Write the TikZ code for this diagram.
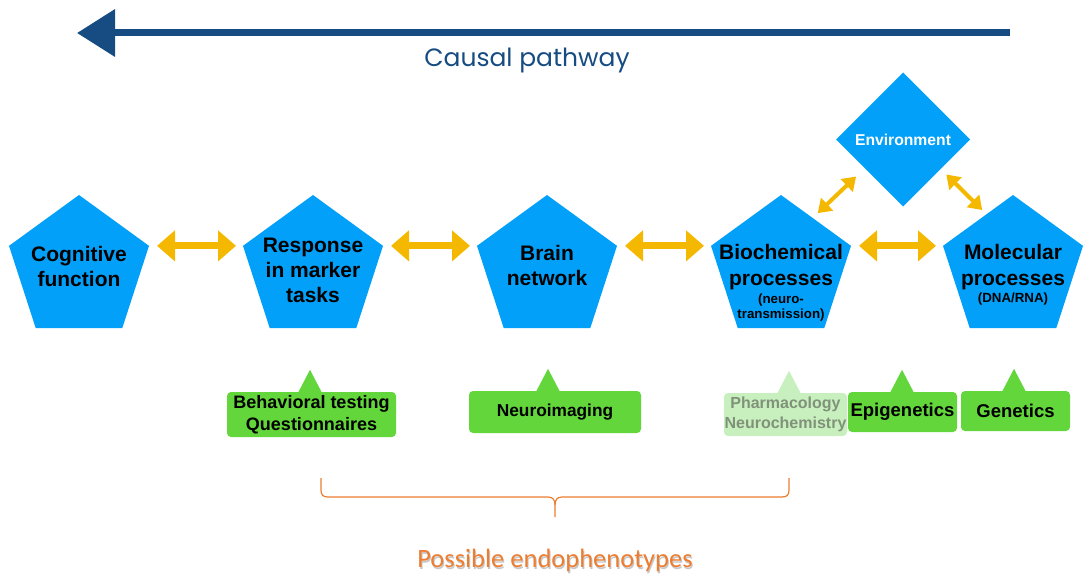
\documentclass[tikz,border=0pt]{standalone}
\usepackage{fontspec}
\setmainfont{Liberation Sans}
\newfontfamily\calfont{Carlito}
\newfontfamily\handfont{Poppins}
\usetikzlibrary{shapes.geometric,arrows.meta,calc}

\definecolor{pentblue}{RGB}{3,160,250}
\definecolor{linkorange}{RGB}{244,184,0}
\definecolor{boxgreen}{RGB}{98,214,58}
\definecolor{palegreen}{RGB}{200,240,190}
\definecolor{palegray}{RGB}{128,146,122}
\definecolor{causalblue}{RGB}{22,76,130}
\definecolor{endoorange}{RGB}{237,125,49}

% pointer triangle on top of a callout box: node, apex x offset, fill colour
\newcommand\calloutpin[3]{%
  \fill[#3] ($(#1.north)+({#2-12},1)$) -- ($(#1.north)+(#2,-22)$) -- ($(#1.north)+({#2+12},1)$) -- cycle;}

\begin{document}
\begin{tikzpicture}[x=1pt,y=-1pt,
  pent/.style={regular polygon, regular polygon sides=5, minimum size=147.2pt,
    inner sep=0pt, outer sep=0pt, fill=pentblue},
  ptext/.style={font=\bfseries\fontsize{21}{25}\selectfont, align=center, inner sep=0pt},
  psub/.style={font=\bfseries\fontsize{13.3}{15}\selectfont, align=center, inner sep=0pt},
  envbox/.style={diamond, aspect=1, minimum width=134pt, minimum height=134pt,
    inner sep=0pt, outer sep=0pt, fill=pentblue, text=white,
    font=\bfseries\fontsize{15.7}{18}\selectfont},
  bigarrow/.style={draw=linkorange, line width=7pt,
    {Triangle[width=30pt,length=18pt]}-{Triangle[width=30pt,length=18pt]}},
  smallarrow/.style={draw=linkorange, line width=4pt,
    {Triangle[width=17pt,length=13pt]}-{Triangle[width=17pt,length=13pt]}},
  callbox/.style={fill=boxgreen, rounded corners=4pt, inner sep=0pt, align=center,
    font=\bfseries\fontsize{18}{22}\selectfont},
  causal/.style={draw=causalblue, line width=7pt, -{Triangle[width=46pt,length=38pt]}},
  brace/.style={draw=endoorange, line width=1.2pt},
  endo/.style={font=\calfont\fontsize{26.5}{30}\selectfont, text=endoorange, inner sep=0pt}
]
\useasboundingbox (0,0) rectangle (1083,577);

% causal pathway arrow
\coordinate (cp-tail) at (1010,33);
\coordinate (cp-head) at (77,33);
\draw[causal] (cp-tail) -- (cp-head);
\node[font=\handfont\fontsize{25}{30}\selectfont, text=causalblue, inner sep=0pt]
  (cp-label) at (527,61) {Causal pathway};

% environment
\node[envbox] (env) at (903,139.5) {Environment};

% chain of levels
\node[pent] (cog)   at (79,268.6)   {};
\node[pent] (resp)  at (313,268.6)  {};
\node[pent] (brain) at (547,268.6)  {};
\node[pent] (bio)   at (781,268.6)  {};
\node[pent] (mol)   at (1013,268.6) {};

\node[ptext] (cog-t)   at (79,266)   {Cognitive\\function};
\node[ptext] (resp-t)  at (313,270)  {Response\\in marker\\tasks};
\node[ptext] (brain-t) at (547,265)  {Brain\\network};
\node[ptext, font=\bfseries\fontsize{21}{26}\selectfont] (bio-t) at (781,267) {Biochemical\\processes};
\node[psub]  (bio-s)   at (781,308) {(neuro-\\transmission)};
\node[ptext, font=\bfseries\fontsize{21}{26}\selectfont] (mol-t) at (1013,267) {Molecular\\processes};
\node[psub]  (mol-s)   at (1013,299.5) {(DNA/RNA)};

% links between levels
\draw[bigarrow, shorten <=8pt, shorten >=7pt] (cog.corner 5)   -- (resp.corner 2);
\draw[bigarrow, shorten <=8pt, shorten >=7pt] (resp.corner 5)  -- (brain.corner 2);
\draw[bigarrow, shorten <=8pt, shorten >=7pt] (brain.corner 5) -- (bio.corner 2);
\draw[bigarrow, shorten <=8pt, shorten >=7pt] (bio.corner 5)   -- (mol.corner 2);
\draw[smallarrow, shorten <=7pt, shorten >=12pt] (bio.58) -- (env.-143);
\draw[smallarrow, shorten <=8pt, shorten >=6pt] (env.-38) -- (mol.116);

% measurement callouts
\node[callbox, minimum width=169pt, minimum height=45pt] (beh) at (311.5,414.5)
  {Behavioral testing\\Questionnaires};
\calloutpin{beh}{-1.5}{boxgreen}
\node[callbox, minimum width=172pt, minimum height=42pt,
  font=\bfseries\fontsize{17.3}{21}\selectfont] (neuro) at (555,412) {Neuroimaging};
\calloutpin{neuro}{-7}{boxgreen}
\node[callbox, fill=palegreen, text=palegray, minimum width=123pt, minimum height=43pt,
  font=\bfseries\fontsize{16}{20}\selectfont] (pharm) at (785.5,414.5)
  {Pharmacology\\Neurochemistry};
\calloutpin{pharm}{3.5}{palegreen}
\node[callbox, minimum width=109pt, minimum height=40pt,
  font=\bfseries\fontsize{18.5}{22}\selectfont] (epi) at (902.5,412) {Epigenetics};
\calloutpin{epi}{-0.5}{boxgreen}
\node[callbox, minimum width=109pt, minimum height=40pt,
  font=\bfseries\fontsize{18.5}{22}\selectfont] (gen) at (1015.5,411) {Genetics};
\calloutpin{gen}{-1.5}{boxgreen}

% brace and caption
\draw[brace] (321,478) -- (321,490) .. controls (321,495) and (323,497) .. (328,497)
  -- (548,497) .. controls (553,497) and (555,500) .. (555,505) -- (555,517);
\draw[brace] (789,478) -- (789,490) .. controls (789,495) and (787,497) .. (782,497)
  -- (562,497) .. controls (557,497) and (555,500) .. (555,505);
\node[endo, text=black, opacity=0.22] (endo-shadow) at (556,562) {Possible endophenotypes};
\node[endo] (endo) at (555,560) {Possible endophenotypes};
\end{tikzpicture}
\end{document}
